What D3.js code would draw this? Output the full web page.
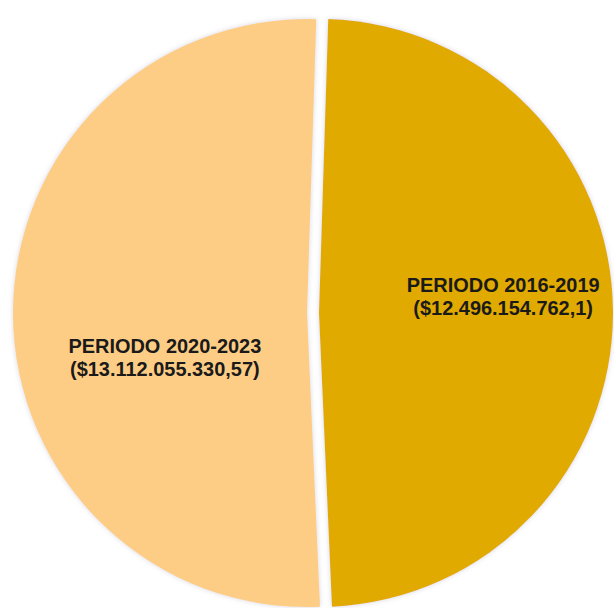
<!DOCTYPE html>
<html lang="es">
  <head>
    <meta charset="UTF-8">
    <script src="https://d3js.org/d3.v7.min.js"></script>
    <style>
      html, body {
        margin: 0;
        padding: 0;
        background: #ffffff;
      }
      #chart {
        display: block;
      }
    </style>
  </head>

  <body>
    <svg id="chart"></svg>

    <script>
      //
      // Data.
      //
      const periods = ['PERIODO 2016-2019', 'PERIODO 2020-2023'];
      const amounts = [12496154762.1, 13112055330.57];
      const amountLabels = ['($12.496.154.762,1)', '($13.112.055.330,57)'];
      const colors = ['#E1AA00', '#FECD85'];

      let width = 614;
      let height = 608;
      let cx = 313;
      let cy = 313;
      let radius = 294;
      let explode = 6;

      // label nudges from the slice centroid, in px
      let nudge = [[-4, -15], [46, 44]];

      let svg = d3.select('#chart')
        .attr('width', width)
        .attr('height', height);

      let defs = svg.append('defs');
      defs.append('filter')
        .attr('id', 'shadow')
        .attr('x', '-10%').attr('y', '-10%')
        .attr('width', '120%').attr('height', '120%')
        .append('feDropShadow')
        .attr('dx', 0)
        .attr('dy', 0)
        .attr('stdDeviation', 2.5)
        .attr('flood-color', '#9a9ab8')
        .attr('flood-opacity', 0.4);

      let data = periods.map((p, i) => ({ period: p, amount: amounts[i], label: amountLabels[i], color: colors[i] }));

      let pie = d3.pie()
        .sort(null)
        .value(d => d.amount)
        .startAngle(1.8 * Math.PI / 180)
        .endAngle(1.8 * Math.PI / 180 + 2 * Math.PI);

      let arc = d3.arc()
        .innerRadius(0)
        .outerRadius(radius);

      let labelArc = d3.arc()
        .innerRadius(radius * 0.64)
        .outerRadius(radius * 0.64);

      let g = svg.append('g')
        .attr('transform', `translate(${cx},${cy})`);

      let slices = g.selectAll('g.slice')
        .data(pie(data))
        .enter()
        .append('g')
        .attr('class', 'slice')
        .attr('transform', d => {
          let mid = (d.startAngle + d.endAngle) / 2;
          return `translate(${Math.sin(mid) * explode},${-Math.cos(mid) * explode})`;
        });

      slices.append('path')
        .attr('d', arc)
        .attr('fill', d => d.data.color)
        .attr('filter', 'url(#shadow)');

      // two lines per label, kept as separate text nodes
      let labels = slices.append('g')
        .attr('transform', (d, i) => {
          let c = labelArc.centroid(d);
          return `translate(${c[0] + nudge[i][0]},${c[1] + nudge[i][1]}) scale(0.95,1)`;
        })
        .attr('text-anchor', 'middle')
        .style('font-family', '"Liberation Sans", Arial, sans-serif')
        .style('font-weight', 'bold')
        .style('font-size', '21px')
        .attr('fill', '#1a1a1a');

      labels.append('text')
        .attr('y', -5)
        .text(d => d.data.period);

      labels.append('text')
        .attr('y', 18)
        .text(d => d.data.label);
    </script>
  </body>
</html>
